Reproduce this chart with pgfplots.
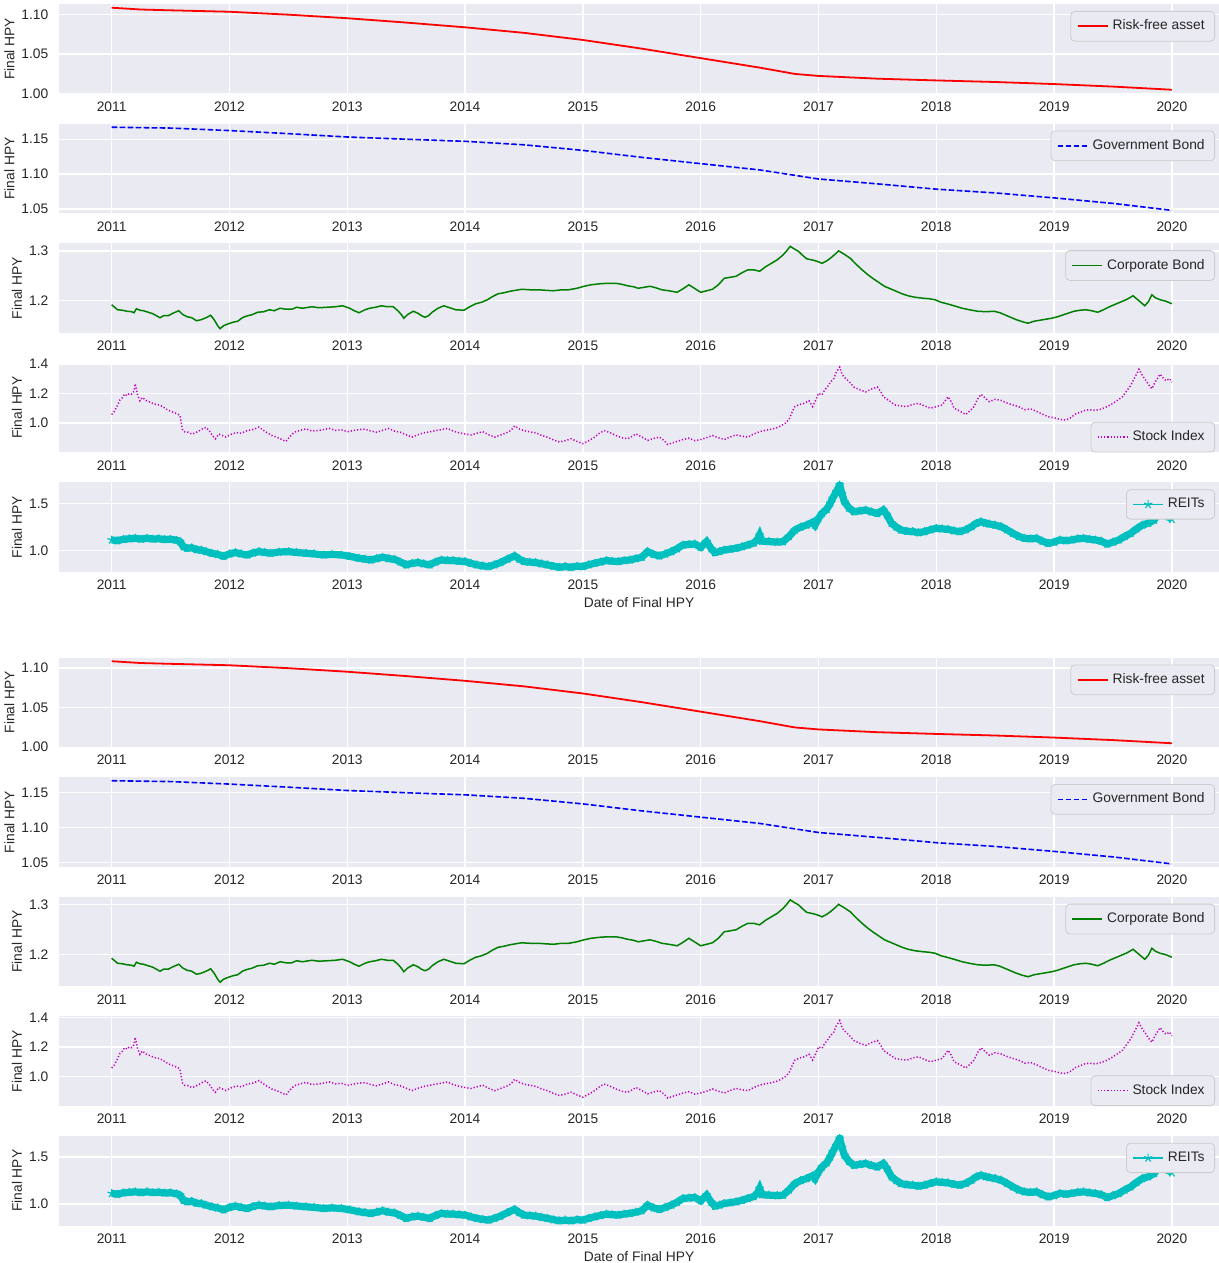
\documentclass[border=0pt]{standalone}
\usepackage{fontspec}
\setmainfont{Liberation Sans}
\usepackage{pgfplots}
\usepackage{pgfplotstable}
\pgfplotsset{compat=1.18}

\definecolor{axbg}{HTML}{EAEAF2}
\definecolor{txt}{HTML}{262626}
\definecolor{legedge}{HTML}{CCCCCC}
\definecolor{mplgreen}{HTML}{008000}
\definecolor{mplmag}{HTML}{BF00BF}
\definecolor{mplcyan}{HTML}{00BFBF}
\newcommand{\cf}{\fontsize{6.9}{8.3}\selectfont}

% risk-free asset
\pgfplotstableread{
x y
2011.00 1.1088
2011.25 1.1065
2011.50 1.1055
2012.00 1.1037
2012.50 1.1000
2013.00 1.0955
2013.50 1.0900
2014.00 1.0840
2014.50 1.0770
2015.00 1.0680
2015.50 1.0570
2016.00 1.0450
2016.50 1.0330
2016.80 1.0250
2017.00 1.0225
2017.50 1.0190
2018.00 1.0168
2018.50 1.0148
2019.00 1.0122
2019.50 1.0090
2020.00 1.0050
}\riskfree

% government bond
\pgfplotstableread{
x y
2011.00 1.1672
2011.50 1.1660
2012.00 1.1624
2012.50 1.1580
2013.00 1.1532
2013.50 1.1500
2014.00 1.1470
2014.50 1.1420
2015.00 1.1340
2015.50 1.1240
2016.00 1.1150
2016.50 1.1060
2017.00 1.0930
2017.50 1.0860
2018.00 1.0784
2018.50 1.0730
2019.00 1.0659
2019.50 1.0580
2020.00 1.0480
}\govbond

% corporate bond
\pgfplotstableread{
x y
2011.00 1.192
2011.02 1.188
2011.05 1.182
2011.09 1.181
2011.13 1.179
2011.17 1.178
2011.19 1.176
2011.21 1.184
2011.24 1.181
2011.27 1.180
2011.31 1.177
2011.35 1.174
2011.38 1.170
2011.41 1.166
2011.44 1.170
2011.48 1.170
2011.52 1.175
2011.57 1.180
2011.60 1.173
2011.64 1.168
2011.68 1.166
2011.72 1.160
2011.76 1.162
2011.81 1.167
2011.84 1.171
2011.87 1.162
2011.90 1.150
2011.92 1.144
2011.95 1.150
2011.98 1.153
2012.03 1.157
2012.07 1.159
2012.11 1.166
2012.14 1.169
2012.19 1.172
2012.24 1.177
2012.29 1.178
2012.34 1.182
2012.38 1.180
2012.43 1.185
2012.48 1.183
2012.53 1.183
2012.57 1.187
2012.62 1.185
2012.70 1.188
2012.76 1.186
2012.83 1.187
2012.90 1.188
2012.96 1.190
2013.02 1.185
2013.06 1.180
2013.10 1.176
2013.15 1.182
2013.19 1.185
2013.24 1.187
2013.29 1.190
2013.34 1.188
2013.39 1.188
2013.43 1.180
2013.46 1.172
2013.48 1.165
2013.51 1.172
2013.56 1.179
2013.60 1.175
2013.63 1.170
2013.66 1.167
2013.69 1.170
2013.72 1.177
2013.77 1.185
2013.82 1.190
2013.87 1.186
2013.92 1.182
2013.99 1.181
2014.04 1.188
2014.09 1.194
2014.14 1.197
2014.19 1.202
2014.23 1.208
2014.28 1.214
2014.33 1.216
2014.38 1.219
2014.43 1.221
2014.48 1.223
2014.55 1.222
2014.62 1.222
2014.68 1.221
2014.75 1.220
2014.82 1.222
2014.88 1.222
2014.95 1.225
2015.01 1.229
2015.07 1.232
2015.14 1.234
2015.21 1.235
2015.28 1.235
2015.33 1.233
2015.38 1.230
2015.43 1.228
2015.47 1.225
2015.52 1.227
2015.57 1.229
2015.62 1.226
2015.67 1.222
2015.73 1.220
2015.80 1.217
2015.85 1.224
2015.90 1.232
2015.94 1.226
2016.00 1.217
2016.05 1.220
2016.10 1.223
2016.15 1.232
2016.20 1.245
2016.25 1.247
2016.30 1.249
2016.35 1.256
2016.40 1.262
2016.45 1.262
2016.50 1.259
2016.55 1.268
2016.60 1.275
2016.65 1.282
2016.70 1.292
2016.73 1.300
2016.76 1.309
2016.80 1.303
2016.83 1.299
2016.87 1.290
2016.90 1.284
2016.96 1.281
2017.00 1.278
2017.03 1.275
2017.07 1.280
2017.10 1.285
2017.14 1.293
2017.17 1.300
2017.22 1.293
2017.27 1.285
2017.32 1.273
2017.37 1.262
2017.42 1.252
2017.46 1.245
2017.51 1.237
2017.56 1.229
2017.61 1.224
2017.66 1.219
2017.71 1.214
2017.76 1.210
2017.82 1.207
2017.89 1.205
2017.94 1.204
2017.99 1.202
2018.04 1.197
2018.09 1.194
2018.15 1.190
2018.22 1.185
2018.28 1.182
2018.35 1.179
2018.42 1.178
2018.49 1.179
2018.54 1.176
2018.58 1.172
2018.63 1.167
2018.68 1.162
2018.73 1.158
2018.78 1.155
2018.83 1.159
2018.88 1.161
2018.93 1.163
2018.98 1.165
2019.03 1.168
2019.08 1.172
2019.13 1.176
2019.17 1.179
2019.22 1.181
2019.27 1.182
2019.32 1.180
2019.37 1.177
2019.42 1.182
2019.47 1.188
2019.52 1.193
2019.57 1.198
2019.62 1.203
2019.67 1.210
2019.72 1.200
2019.77 1.190
2019.80 1.198
2019.83 1.212
2019.86 1.206
2019.90 1.202
2019.95 1.199
2020.00 1.194
}\corpbond

% stock index
\pgfplotstableread{
x y
2011.00 1.057
2011.02 1.075
2011.03 1.090
2011.05 1.120
2011.07 1.155
2011.09 1.170
2011.11 1.195
2011.13 1.185
2011.15 1.200
2011.17 1.195
2011.19 1.215
2011.20 1.265
2011.22 1.190
2011.24 1.150
2011.26 1.172
2011.28 1.160
2011.30 1.148
2011.33 1.140
2011.36 1.128
2011.40 1.122
2011.43 1.112
2011.46 1.095
2011.50 1.079
2011.53 1.070
2011.56 1.060
2011.58 1.050
2011.60 0.958
2011.62 0.940
2011.65 0.937
2011.68 0.925
2011.70 0.930
2011.74 0.945
2011.78 0.965
2011.80 0.970
2011.83 0.945
2011.86 0.910
2011.88 0.893
2011.91 0.925
2011.94 0.915
2011.97 0.905
2012.02 0.925
2012.06 0.935
2012.10 0.930
2012.15 0.948
2012.20 0.955
2012.25 0.972
2012.28 0.955
2012.32 0.933
2012.36 0.915
2012.40 0.904
2012.44 0.890
2012.48 0.875
2012.51 0.905
2012.55 0.937
2012.60 0.950
2012.65 0.960
2012.70 0.945
2012.75 0.948
2012.80 0.955
2012.85 0.963
2012.90 0.950
2012.95 0.954
2013.00 0.940
2013.05 0.948
2013.10 0.955
2013.15 0.958
2013.20 0.945
2013.25 0.937
2013.30 0.950
2013.35 0.963
2013.40 0.945
2013.45 0.937
2013.50 0.920
2013.55 0.904
2013.60 0.920
2013.65 0.933
2013.70 0.940
2013.75 0.948
2013.80 0.955
2013.85 0.963
2013.90 0.945
2013.95 0.933
2014.00 0.925
2014.05 0.919
2014.10 0.930
2014.15 0.941
2014.20 0.920
2014.25 0.904
2014.30 0.918
2014.35 0.933
2014.39 0.950
2014.42 0.980
2014.46 0.960
2014.50 0.948
2014.55 0.940
2014.60 0.933
2014.65 0.915
2014.70 0.904
2014.75 0.885
2014.80 0.871
2014.85 0.880
2014.90 0.893
2014.95 0.875
2015.00 0.860
2015.05 0.880
2015.10 0.904
2015.14 0.930
2015.18 0.948
2015.23 0.935
2015.28 0.915
2015.33 0.900
2015.38 0.893
2015.42 0.910
2015.45 0.926
2015.50 0.905
2015.55 0.882
2015.60 0.895
2015.65 0.904
2015.69 0.880
2015.72 0.854
2015.76 0.865
2015.80 0.875
2015.85 0.888
2015.90 0.897
2015.95 0.880
2016.00 0.888
2016.05 0.900
2016.10 0.915
2016.15 0.900
2016.20 0.888
2016.25 0.905
2016.30 0.919
2016.35 0.910
2016.40 0.904
2016.45 0.925
2016.50 0.941
2016.55 0.950
2016.60 0.958
2016.64 0.965
2016.68 0.980
2016.72 1.000
2016.75 1.024
2016.78 1.080
2016.80 1.111
2016.84 1.125
2016.88 1.133
2016.92 1.150
2016.95 1.111
2016.98 1.160
2017.00 1.200
2017.03 1.190
2017.05 1.220
2017.08 1.250
2017.10 1.275
2017.13 1.300
2017.15 1.341
2017.18 1.378
2017.20 1.330
2017.22 1.308
2017.26 1.280
2017.30 1.243
2017.35 1.225
2017.40 1.210
2017.45 1.230
2017.50 1.243
2017.53 1.210
2017.55 1.177
2017.60 1.150
2017.65 1.122
2017.70 1.115
2017.75 1.111
2017.80 1.125
2017.85 1.133
2017.90 1.115
2017.95 1.100
2018.00 1.110
2018.05 1.122
2018.10 1.177
2018.13 1.140
2018.15 1.100
2018.20 1.080
2018.25 1.057
2018.29 1.085
2018.32 1.111
2018.35 1.160
2018.38 1.194
2018.42 1.165
2018.45 1.144
2018.50 1.160
2018.55 1.152
2018.60 1.135
2018.65 1.122
2018.70 1.110
2018.75 1.090
2018.80 1.095
2018.85 1.079
2018.90 1.060
2018.95 1.042
2019.00 1.035
2019.05 1.024
2019.10 1.020
2019.14 1.035
2019.18 1.060
2019.22 1.072
2019.26 1.085
2019.30 1.090
2019.35 1.085
2019.40 1.094
2019.45 1.110
2019.50 1.133
2019.55 1.160
2019.58 1.177
2019.61 1.210
2019.65 1.254
2019.68 1.300
2019.72 1.363
2019.75 1.320
2019.78 1.286
2019.81 1.250
2019.83 1.232
2019.86 1.280
2019.90 1.330
2019.93 1.300
2019.95 1.286
2019.98 1.300
2020.00 1.275
}\stockidx

% REITs
\pgfplotstableread{
x y
2011.00 1.113
2011.05 1.105
2011.10 1.120
2011.15 1.125
2011.20 1.130
2011.25 1.122
2011.30 1.130
2011.35 1.123
2011.40 1.125
2011.45 1.118
2011.50 1.120
2011.55 1.110
2011.58 1.095
2011.61 1.040
2011.64 1.025
2011.68 1.030
2011.72 1.010
2011.76 1.005
2011.80 0.990
2011.85 0.972
2011.90 0.960
2011.95 0.940
2012.00 0.965
2012.05 0.979
2012.10 0.965
2012.15 0.954
2012.20 0.975
2012.25 0.989
2012.30 0.980
2012.35 0.972
2012.42 0.985
2012.50 0.989
2012.57 0.980
2012.65 0.972
2012.72 0.965
2012.80 0.954
2012.87 0.960
2012.95 0.954
2013.02 0.940
2013.10 0.919
2013.15 0.910
2013.20 0.901
2013.25 0.915
2013.30 0.930
2013.35 0.915
2013.40 0.908
2013.45 0.880
2013.50 0.849
2013.55 0.865
2013.60 0.873
2013.65 0.860
2013.70 0.849
2013.75 0.880
2013.80 0.901
2013.85 0.895
2013.90 0.894
2013.95 0.888
2014.00 0.884
2014.05 0.865
2014.10 0.849
2014.15 0.838
2014.20 0.831
2014.25 0.850
2014.30 0.873
2014.36 0.910
2014.42 0.944
2014.46 0.910
2014.50 0.884
2014.55 0.878
2014.60 0.873
2014.65 0.860
2014.70 0.849
2014.75 0.835
2014.80 0.824
2014.85 0.830
2014.90 0.824
2014.95 0.835
2015.00 0.831
2015.05 0.850
2015.10 0.866
2015.15 0.880
2015.20 0.894
2015.25 0.888
2015.30 0.884
2015.35 0.895
2015.40 0.901
2015.45 0.915
2015.50 0.930
2015.55 0.989
2015.60 0.960
2015.65 0.944
2015.70 0.965
2015.75 0.989
2015.80 1.020
2015.85 1.060
2015.90 1.065
2015.95 1.070
2016.00 1.035
2016.05 1.095
2016.09 1.020
2016.12 0.979
2016.16 0.990
2016.20 1.007
2016.25 1.015
2016.30 1.025
2016.35 1.040
2016.40 1.060
2016.45 1.080
2016.48 1.113
2016.50 1.165
2016.52 1.100
2016.58 1.095
2016.65 1.090
2016.70 1.095
2016.75 1.150
2016.80 1.218
2016.85 1.250
2016.90 1.271
2016.95 1.300
2016.97 1.270
2017.00 1.340
2017.03 1.394
2017.07 1.437
2017.10 1.500
2017.12 1.553
2017.15 1.620
2017.18 1.694
2017.20 1.600
2017.22 1.518
2017.26 1.450
2017.30 1.412
2017.35 1.420
2017.40 1.430
2017.45 1.410
2017.50 1.394
2017.55 1.430
2017.58 1.380
2017.62 1.289
2017.66 1.250
2017.70 1.218
2017.75 1.205
2017.80 1.201
2017.85 1.190
2017.90 1.201
2017.95 1.220
2018.00 1.236
2018.05 1.230
2018.10 1.225
2018.15 1.210
2018.20 1.201
2018.25 1.220
2018.30 1.254
2018.34 1.290
2018.38 1.306
2018.42 1.290
2018.45 1.282
2018.50 1.270
2018.55 1.254
2018.60 1.220
2018.65 1.183
2018.70 1.150
2018.75 1.130
2018.80 1.125
2018.85 1.130
2018.90 1.100
2018.95 1.077
2019.00 1.090
2019.05 1.113
2019.10 1.105
2019.15 1.113
2019.20 1.125
2019.25 1.130
2019.30 1.120
2019.35 1.113
2019.40 1.100
2019.45 1.070
2019.50 1.090
2019.55 1.113
2019.60 1.150
2019.65 1.183
2019.70 1.230
2019.75 1.271
2019.80 1.290
2019.85 1.324
2019.88 1.380
2019.92 1.412
2019.95 1.370
2019.97 1.359
2020.00 1.331
}\reits

\pgfplotsset{
  panel/.style={
    anchor=north west, scale only axis,
    width=580pt, height=44.85pt,
    xmin=2010.553, xmax=2020.40,
    axis background/.style={fill=axbg},
    axis line style={draw=none},
    major tick length=0pt,
    grid=major, major grid style={white, line width=0.7pt},
    xtick={2011,2012,2013,2014,2015,2016,2017,2018,2019,2020},
    xticklabels={2011,2012,2013,2014,2015,2016,2017,2018,2019,2020},
    tick label style={font=\cf, text=txt},
    xticklabel style={yshift=-0.5pt},
    yticklabel style={xshift=-1.8pt},
    ylabel={Final HPY}, ylabel style={font=\cf, text=txt, inner sep=0pt},
    xlabel style={font=\cf, text=txt, yshift=3pt},
    legend cell align=left,
    legend image code/.code={\draw[mark repeat=2,mark phase=2,##1] plot coordinates {(0pt,0pt) (7.5pt,0pt) (15pt,0pt)};},
    legend style={fill=axbg, draw=legedge, rounded corners=2pt, font=\cf, text=txt,
      at={(1,1)}, anchor=north east, xshift=-2pt, yshift=-3.5pt,
      inner xsep=3pt, inner ysep=2.2pt},
  },
}

\newcommand{\hpyblock}[1]{%
  \begin{axis}[panel, at={(29.5pt,{-2pt-#1})},
      ymin=1.0, ymax=1.1135, ytick={1.00,1.05,1.10}, yticklabels={1.00,1.05,1.10}]
    \addplot[red, line width=0.9pt] table {\riskfree};
    \addlegendentry{Risk-free asset}
  \end{axis}
  \begin{axis}[panel, at={(29.5pt,{-61.8pt-#1})},
      ymin=1.0438, ymax=1.1724, ytick={1.05,1.10,1.15}, yticklabels={1.05,1.10,1.15}]
    \addplot[blue, line width=0.8pt, dash pattern=on 2.8pt off 1.2pt] table {\govbond};
    \addlegendentry{Government Bond}
  \end{axis}
  \begin{axis}[panel, at={(29.5pt,{-121.6pt-#1})},
      ymin=1.1356, ymax=1.3153, ytick={1.2,1.3}, yticklabels={1.2,1.3}]
    \addplot[mplgreen, line width=0.75pt] table {\corpbond};
    \addlegendentry{Corporate Bond}
  \end{axis}
  \begin{axis}[panel, at={(29.5pt,{-181.4pt-#1})},
      ymin=0.80, ymax=1.407, ytick={1.0,1.2,1.4}, yticklabels={1.0,1.2,1.4},
      legend style={at={(1,0)}, anchor=south east, yshift=3.5pt}]
    \addplot[mplmag, line width=0.75pt, dash pattern=on 0.6pt off 1pt] table {\stockidx};
    \addlegendentry{Stock Index}
  \end{axis}
  \begin{axis}[panel, at={(29.5pt,{-241.2pt-#1})},
      ymin=0.772, ymax=1.722, ytick={1.0,1.5}, yticklabels={1.0,1.5},
      xlabel={Date of Final HPY}]
    \addplot[mplcyan, line width=3.6pt, forget plot] table {\reits};
    \addplot[mplcyan, line width=0.7pt, mark=star, mark size=2.2pt,
      mark options={line width=0.6pt}] table {\reits};
    \addlegendentry{REITs}
  \end{axis}
}

\begin{document}
\begin{tikzpicture}
\useasboundingbox (0,0) rectangle (609.5pt,-631.5pt);
\hpyblock{0pt}
\hpyblock{326.75pt}
\end{tikzpicture}
\end{document}
